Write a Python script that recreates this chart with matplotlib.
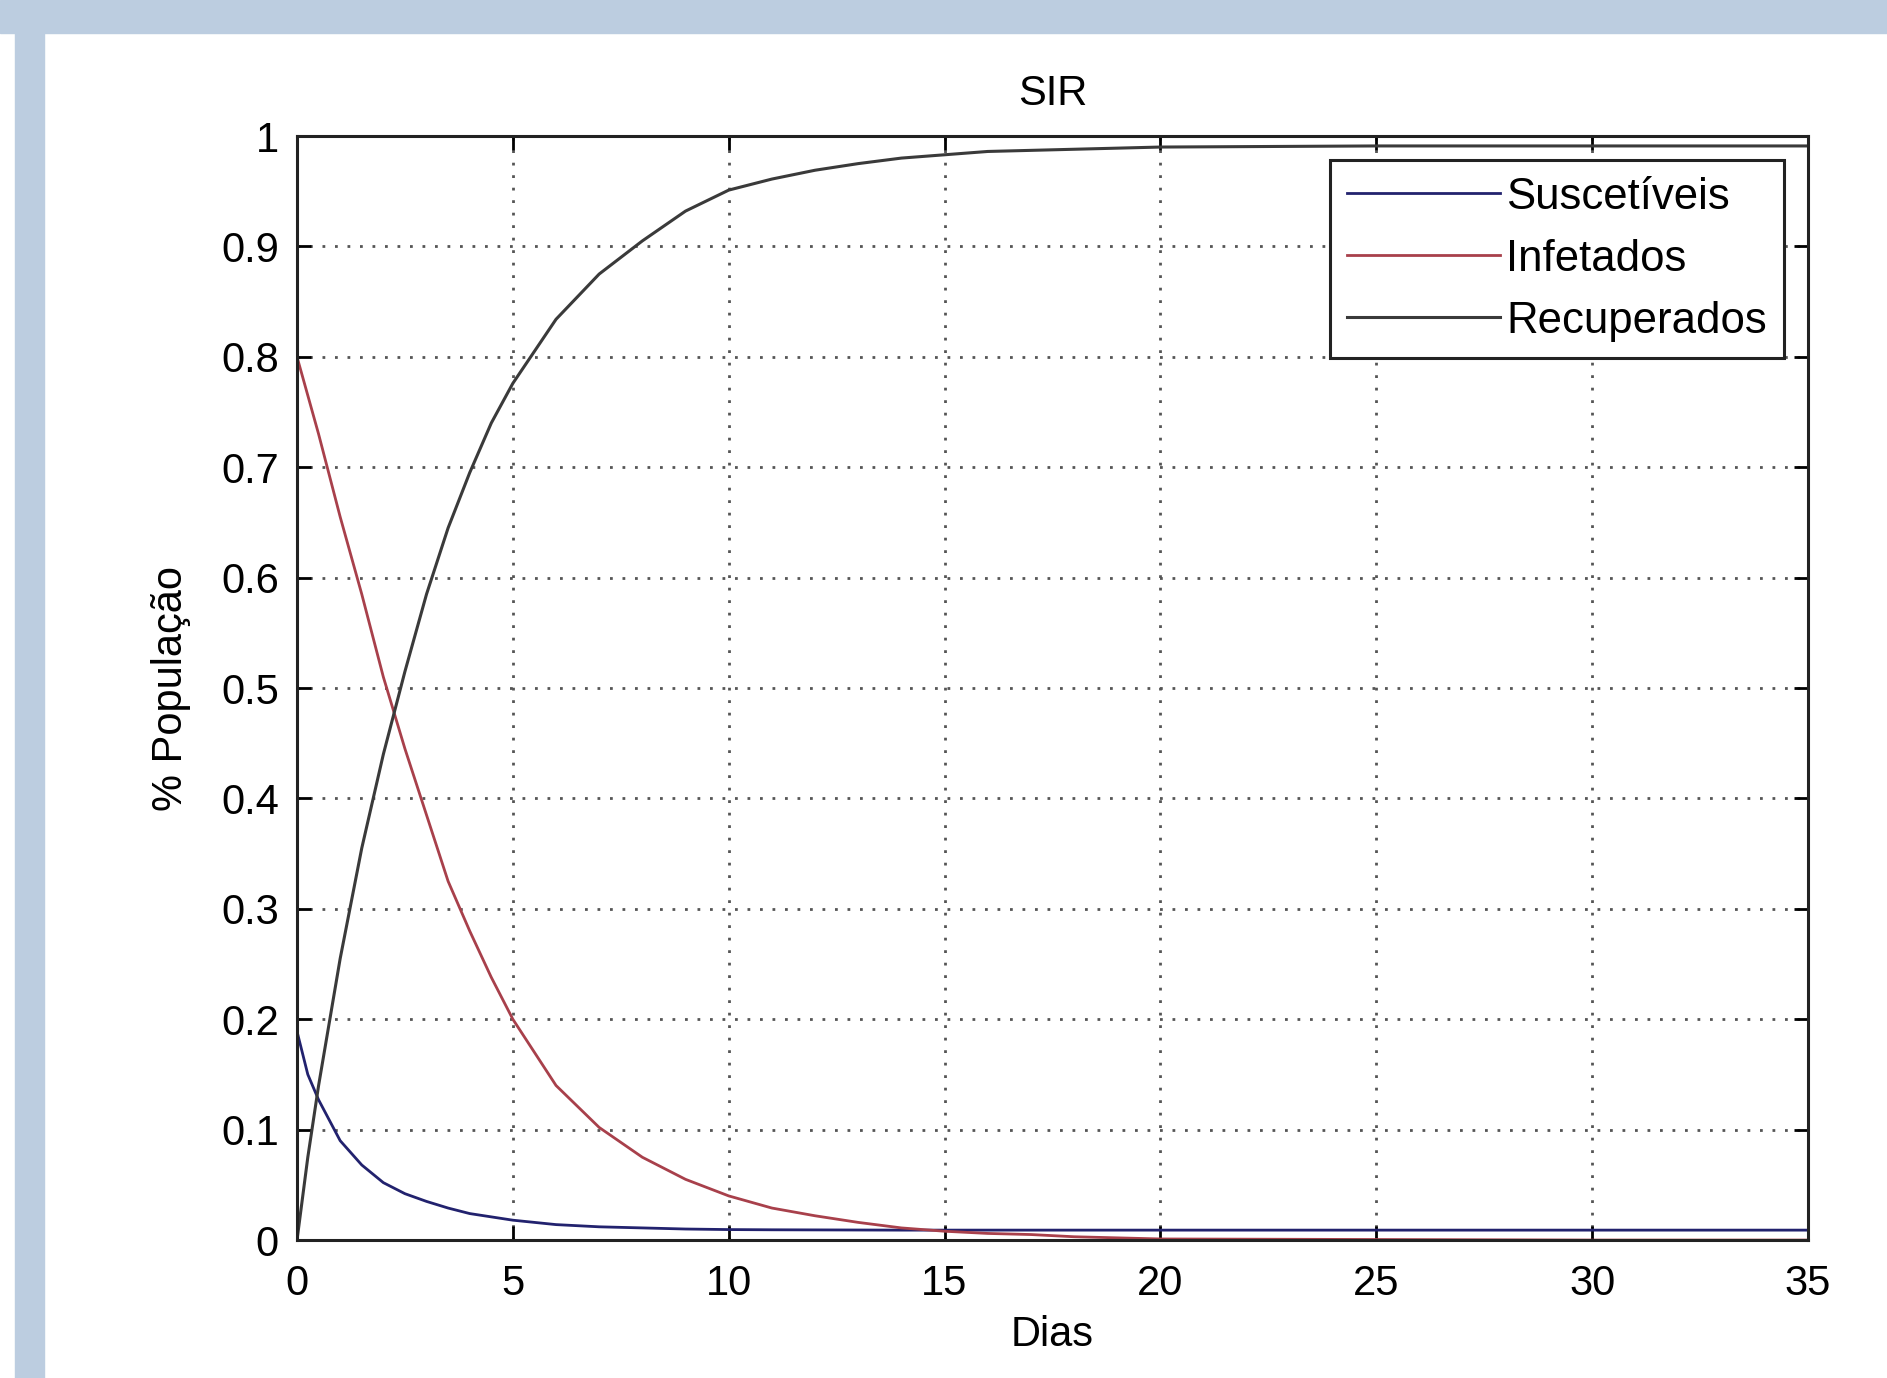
import matplotlib
matplotlib.use('Agg')
from matplotlib import pyplot as plt
from matplotlib.patches import Rectangle

# values
dias = [0, 0.25, 0.5, 1, 1.5, 2, 2.5, 3, 3.5, 4, 4.5, 5, 6, 7, 8, 9, 10, 11, 12, 13, 14, 15, 16, 17,
        18, 19, 20, 25, 30, 35]
suscetiveis = [0.189, 0.15, 0.127, 0.09, 0.068, 0.052, 0.042, 0.035, 0.029, 0.024, 0.021, 0.018,
               0.014, 0.012, 0.011, 0.010, 0.0095, 0.0093, 0.0092, 0.0091, 0.009, 0.009, 0.009,
               0.009, 0.009, 0.009, 0.009, 0.009, 0.009, 0.009]
infetados = [0.80, 0.765, 0.73, 0.655, 0.585, 0.51, 0.445, 0.385, 0.325, 0.28, 0.238, 0.20, 0.14,
             0.102, 0.075, 0.055, 0.040, 0.029, 0.022, 0.016, 0.011, 0.008, 0.006, 0.005, 0.003,
             0.002, 0.001, 0.0005, 0.0, 0.0]
recuperados = [0.0, 0.075, 0.14, 0.255, 0.355, 0.44, 0.515, 0.585, 0.645, 0.695, 0.74, 0.776, 0.834,
               0.875, 0.905, 0.932, 0.951, 0.961, 0.969, 0.975, 0.980, 0.983, 0.986, 0.987, 0.988,
               0.989, 0.990, 0.991, 0.991, 0.991]

xticks = [0, 5, 10, 15, 20, 25, 30, 35]
yticks = [0, 0.1, 0.2, 0.3, 0.4, 0.5, 0.6, 0.7, 0.8, 0.9, 1]
yticklabels = ['0', '0.1', '0.2', '0.3', '0.4', '0.5', '0.6', '0.7', '0.8', '0.9', '1']

plt.rcParams['font.family'] = ['Liberation Sans', 'DejaVu Sans']
fs = 30

fig = plt.figure(figsize=(18.87, 13.78), dpi=100)
fig.patch.set_facecolor('white')
band = '#bccde0'
fig.patches.append(Rectangle((0, 0.9764), 1, 0.0236, transform=fig.transFigure, color=band, zorder=0))
fig.patches.append(Rectangle((0.0079, 0), 0.0154, 0.9764, transform=fig.transFigure, color=band, zorder=0))

ax = fig.add_axes([0.1574, 0.1001, 0.8007, 0.8012])
ax.plot(dias, suscetiveis, color='#22226e', lw=2.0, label='Suscetíveis')
ax.plot(dias, infetados, color='#a8404b', lw=2.0, label='Infetados')
ax.plot(dias, recuperados, color='#3a3a3a', lw=2.2, label='Recuperados')

ax.set_xlim(0, 35)
ax.set_ylim(0, 1)
ax.set_xticks(xticks)
ax.set_xticklabels([str(t) for t in xticks])
ax.set_yticks(yticks)
ax.set_yticklabels(yticklabels)
ax.tick_params(direction='in', length=10, width=2, top=True, right=True,
               labelsize=fs, colors='black')
ax.tick_params(axis='x', pad=17)
ax.tick_params(axis='y', pad=13)
ax.grid(True, color='#555555', linestyle=(0, (1, 3.5)), linewidth=2)
for s in ax.spines.values():
    s.set_linewidth(2.2)
    s.set_color('#222222')

ax.set_title('SIR', fontsize=fs, pad=22)
ax.set_xlabel('Dias', fontsize=fs, labelpad=8)
ax.set_ylabel('% População', fontsize=fs, labelpad=22)

leg = ax.legend(loc='upper right', fontsize=31.5, handlelength=3.5, handletextpad=0.15,
                borderaxespad=0.55, fancybox=False, framealpha=1, labelspacing=0.48,
                borderpad=0.38)
leg.get_frame().set_edgecolor('#222222')
leg.get_frame().set_linewidth(2.2)

plt.savefig('out.png', dpi=100)
